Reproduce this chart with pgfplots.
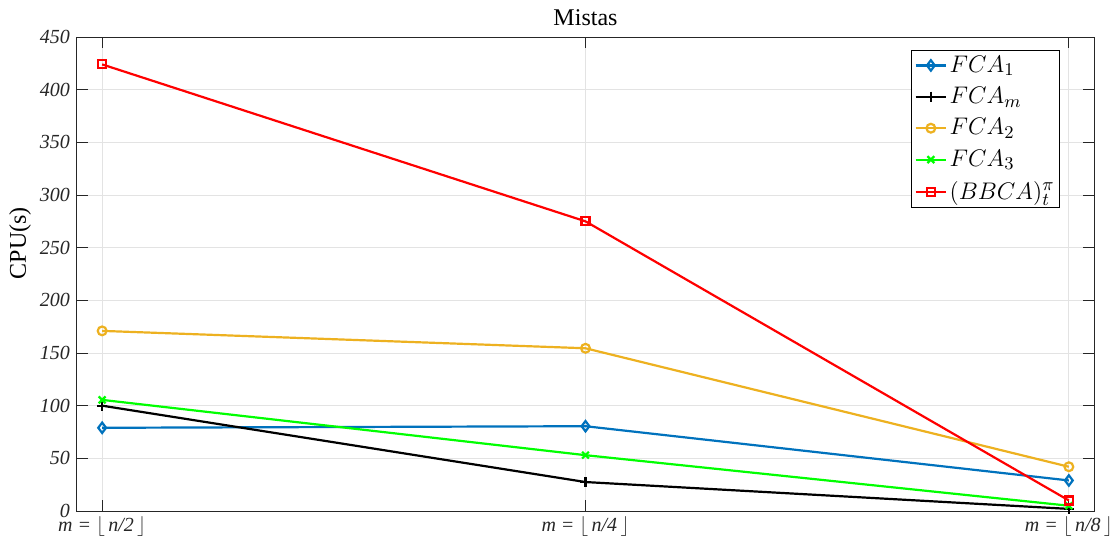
\documentclass[border=0pt]{standalone}
\usepackage{fontspec}
\setmainfont{Liberation Serif}
\usepackage{pgfplots}
\pgfplotsset{compat=1.18}

\definecolor{mblue}{rgb}{0,0.447,0.741}
\definecolor{morange}{rgb}{0.929,0.694,0.125}
\definecolor{axgray}{rgb}{0.15,0.15,0.15}

\newcommand{\mlab}[1]{\textit{m} = $\lfloor$\,\textit{n/#1}\,$\rfloor$}

\begin{document}
\begin{tikzpicture}
\path[use as bounding box] (-38.5pt,-16pt) rectangle (519.5pt,255.5pt);
\begin{axis}[
  at={(0,0)}, anchor=south west,
  scale only axis,
  width=508.5pt, height=237pt,
  xmin=-0.052, xmax=2.052,
  ymin=0, ymax=450,
  xtick={0,1,2},
  xticklabels={\mlab{2},\mlab{4},\mlab{8}},
  ytick={0,50,...,450},
  /pgf/number format/assume math mode=true,
  ticklabel style={font=\fontsize{10}{12}\selectfont\itshape, text=axgray},
  xticklabel style={yshift=1pt},
  tick align=inside,
  major tick length=5.5pt,
  tick style={axgray, line width=0.5pt},
  axis line style={axgray, line width=0.5pt},
  grid=major,
  grid style={gray!22, line width=0.5pt},
  title={Mistas},
  title style={font=\fontsize{12}{14}\selectfont, yshift=-4pt},
  ylabel={CPU(s)},
  every axis y label/.style={at={(axis description cs:-0.056,0.565)},
    rotate=90, anchor=center, font=\fontsize{12}{14}\selectfont},
  legend cell align=left,
  legend style={at={(0.967,0.973)}, anchor=north east,
    draw=black, line width=0.5pt, fill=white,
    font=\fontsize{12.6}{15}\selectfont,
    row sep=3.6pt, inner sep=1.5pt,
    nodes={inner sep=1.2pt}},
  legend image post style={line width=1.1pt},
  every axis plot/.append style={line width=1.1pt,
    legend image code/.code={\draw[mark repeat=2,mark phase=2]
      plot coordinates {(0cm,0cm) (0.27cm,0cm) (0.54cm,0cm)};}},
]
\addplot[mblue, mark=diamond, mark size=2.6pt, mark options={solid, line width=1.1pt}]
  coordinates {(0,79) (1,80.5) (2,29)};
\addlegendentry{$FCA_1$}
\addplot[black, mark=+, mark size=2.6pt, mark options={line width=1.1pt}]
  coordinates {(0,100) (1,27.5) (2,2)};
\addlegendentry{$FCA_m$}
\addplot[morange, mark=o, mark size=2.2pt, mark options={line width=1.1pt}]
  coordinates {(0,171) (1,154.5) (2,42)};
\addlegendentry{$FCA_2$}
\addplot[green, mark=x, mark size=2.4pt, mark options={line width=1.1pt}]
  coordinates {(0,105.5) (1,53) (2,5)};
\addlegendentry{$FCA_3$}
\addplot[red, mark=square, mark size=2pt, mark options={line width=1.1pt}]
  coordinates {(0,424) (1,275) (2,10)};
\addlegendentry{$(BBCA)_t^{\pi}$}
\end{axis}
\end{tikzpicture}
\end{document}
